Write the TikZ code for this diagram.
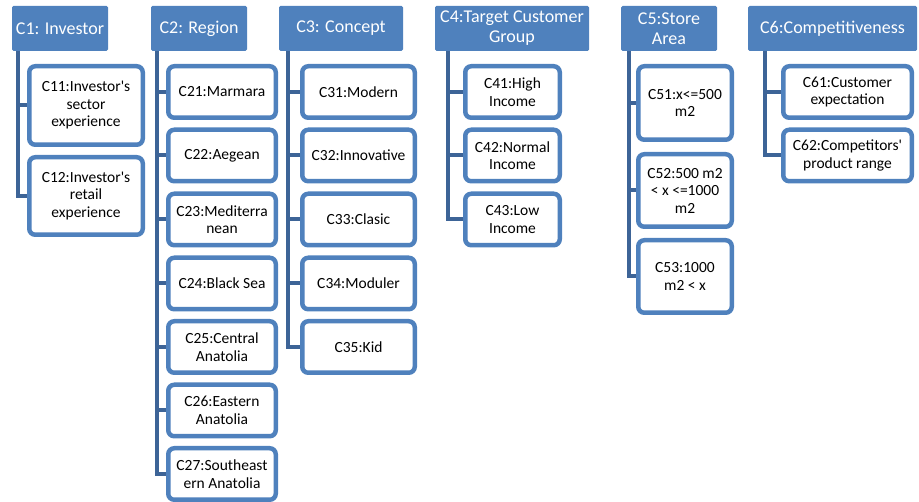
\documentclass[tikz,border=0pt]{standalone}
\usepackage{fontspec}
\setmainfont{Carlito}
\definecolor{hdrblue}{HTML}{4F81BD}
\definecolor{barblue}{HTML}{3D6497}
\begin{document}
\begin{tikzpicture}[x=1pt,y=-1pt,
  hdr/.style={fill=hdrblue,draw=none,rounded corners=1.5pt,text=white,align=center,
    font=\fontsize{18pt}{20pt}\selectfont,minimum height=45pt,inner sep=0pt},
  kid/.style={draw=hdrblue,line width=4.5pt,rounded corners=6pt,fill=white,align=center,
    font=\fontsize{15.5pt}{17.5pt}\selectfont,inner sep=0pt,text=black},
  bar/.style={draw=barblue,line width=4pt,line join=miter}]
\useasboundingbox (0,0) rectangle (919,502);
% headers
\node[hdr,minimum width=96pt] (h1) at (60,28.5) {C1: Investor};
\node[hdr,minimum width=96pt] (h2) at (199,28.5) {C2: Region};
\node[hdr,minimum width=124pt] (h3) at (341,28.5) {C3: Concept};
\node[hdr,minimum width=154pt] (h4) at (512,28.5) {C4:Target Customer\\Group};
\node[hdr,minimum width=96pt] (h5) at (669,28.5) {C5:Store\\Area};
\node[hdr,minimum width=169pt] (h6) at (832.5,28.5) {C6:Competitiveness};
% bar tops
\coordinate (b1) at (18,51);
\coordinate (b2) at (157,51);
\coordinate (b3) at (288,51);
\coordinate (b4) at (448,51);
\coordinate (b5) at (628.5,51);
\coordinate (b6) at (765,51);
% C1 children
\node[kid,minimum width=113.5pt,minimum height=78.5pt] (c11) at (86,105.5) {C11:Investor\textquotesingle s\\sector\\experience};
\node[kid,minimum width=113.5pt,minimum height=77.5pt] (c12) at (86,196) {C12:Investor\textquotesingle s\\retail\\experience};
% C2 children
\node[kid,minimum width=107.5pt,minimum height=51.5pt] (c21) at (222,92) {C21:Marmara};
\node[kid,minimum width=107.5pt,minimum height=51.5pt] (c22) at (222,155.5) {C22:Aegean};
\node[kid,minimum width=107.5pt,minimum height=51.5pt] (c23) at (222,219.5) {C23:Mediterra\\nean};
\node[kid,minimum width=107.5pt,minimum height=51.5pt] (c24) at (222,283.5) {C24:Black Sea};
\node[kid,minimum width=107.5pt,minimum height=51.5pt] (c25) at (222,347) {C25:Central\\Anatolia};
\node[kid,minimum width=107.5pt,minimum height=51.5pt] (c26) at (222,410.5) {C26:Eastern\\Anatolia};
\node[kid,minimum width=107.5pt,minimum height=51.5pt] (c27) at (222,474) {C27:Southeast\\ern Anatolia};
% C3 children
\node[kid,minimum width=112.5pt,minimum height=51.5pt] (c31) at (358.5,92) {C31:Modern};
\node[kid,minimum width=112.5pt,minimum height=51.5pt] (c32) at (358.5,155.5) {C32:Innovative};
\node[kid,minimum width=112.5pt,minimum height=51.5pt] (c33) at (358.5,219.5) {C33:Clasic};
\node[kid,minimum width=112.5pt,minimum height=51.5pt] (c34) at (358.5,283.5) {C34:Moduler};
\node[kid,minimum width=112.5pt,minimum height=51.5pt] (c35) at (358.5,347) {C35:Kid};
% C4 children
\node[kid,minimum width=94.5pt,minimum height=51.5pt] (c41) at (512.5,92) {C41:High\\Income};
\node[kid,minimum width=94.5pt,minimum height=51.5pt] (c42) at (512.5,155.5) {C42:Normal\\Income};
\node[kid,minimum width=94.5pt,minimum height=51.5pt] (c43) at (512.5,219.5) {C43:Low\\Income};
% C5 children
\node[kid,minimum width=93.5pt,minimum height=73.5pt] (c51) at (685,103) {C51:x<=500\\m2};
\node[kid,minimum width=93.5pt,minimum height=72.5pt] (c52) at (685,190.5) {C52:500 m2\\< x <=1000\\m2};
\node[kid,minimum width=93.5pt,minimum height=72.5pt] (c53) at (685,276.5) {C53:1000\\m2 < x};
% C6 children
\node[kid,minimum width=128.5pt,minimum height=51.5pt] (c61) at (847.5,92) {C61:Customer\\expectation};
\node[kid,minimum width=128.5pt,minimum height=51.5pt] (c62) at (847.5,155.5) {C62:Competitors\textquotesingle\\product range};
% connectors
\draw[bar] (b1) |- (c12.west);
\draw[bar] (b1 |- c11.west) -- (c11.west);
\draw[bar] (b2) |- (c27.west);
\foreach \n in {c21,c22,c23,c24,c25,c26}{\draw[bar] (b2 |- \n.west) -- (\n.west);}
\draw[bar] (b3) |- (c35.west);
\foreach \n in {c31,c32,c33,c34}{\draw[bar] (b3 |- \n.west) -- (\n.west);}
\draw[bar] (b4) |- (c43.west);
\foreach \n in {c41,c42}{\draw[bar] (b4 |- \n.west) -- (\n.west);}
\draw[bar] (b5) |- (c53.west);
\foreach \n in {c51,c52}{\draw[bar] (b5 |- \n.west) -- (\n.west);}
\draw[bar] (b6) |- (c62.west);
\draw[bar] (b6 |- c61.west) -- (c61.west);
\end{tikzpicture}
\end{document}
